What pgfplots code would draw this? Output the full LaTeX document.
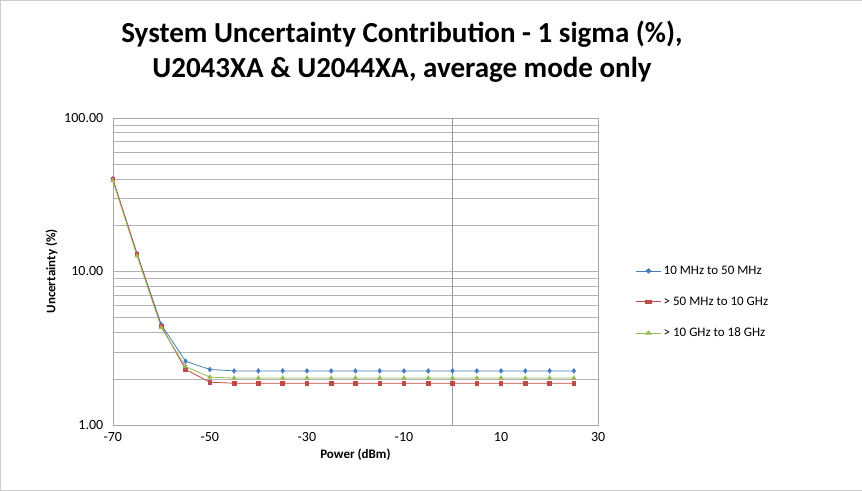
\documentclass[border=0pt]{standalone}
\usepackage{pgfplots}
\pgfplotsset{compat=1.18}
\usepackage{fontspec}
\setmainfont{Carlito}
\definecolor{cb}{HTML}{4A7EBB}
\definecolor{cr}{HTML}{BE4B48}
\definecolor{cg}{HTML}{98B954}
\begin{document}
\begin{tikzpicture}[x=1pt,y=1pt]
\draw[gray!40,fill=white] (0.5,0.5) rectangle (861.5,490.5);
\node[font=\fontsize{29}{35}\selectfont\bfseries,align=center] at (402,439) {System Uncertainty Contribution - 1 sigma (\%),\\U2043XA \& U2044XA, average mode only};
\begin{axis}[at={(113pt,66pt)},anchor=south west,scale only axis,width=485pt,height=307pt,
 ymode=log,ymin=1,ymax=100,xmin=-70,xmax=30,
 xtick={-70,-50,-30,-10,10,30},
 ytick={1,10,100},yticklabels={1.00,10.00,100.00},
 ymajorgrids,yminorgrids,
 major grid style={gray!60},minor grid style={gray!60},
 axis line style={gray!70},tick style={draw=none},
 extra x ticks={0},extra x tick labels={},extra x tick style={grid=major,major grid style={gray!80}},
 tick label style={font=\fontsize{14}{16}\selectfont},
 yticklabel style={xshift=-6pt},xticklabel style={yshift=-4pt},
 /pgf/number format/assume math mode=true,
 xlabel={\textbf{Power (dBm)}},ylabel={\textbf{Uncertainty (\%)}},
 label style={font=\fontsize{13}{15}\selectfont},
 legend style={at={(1.07,0.4)},anchor=west,draw=none,font=\fontsize{13}{15}\selectfont,row sep=17pt},
 legend image post style={xscale=1.5},
 legend cell align=left,
 every axis plot/.append style={thick,mark size=2.2pt}]
\addplot[cb,mark=diamond*] coordinates {(-70,40)(-65,13)(-60,4.5)(-55,2.6)(-50,2.3)(-45,2.25)(-40,2.25)(-35,2.25)(-30,2.25)(-25,2.25)(-20,2.25)(-15,2.25)(-10,2.25)(-5,2.25)(0,2.25)(5,2.25)(10,2.25)(15,2.25)(20,2.25)(25,2.25)};
\addlegendentry{10 MHz to 50 MHz}
\addplot[cr,mark=square*,mark size=1.8pt] coordinates {(-70,40)(-65,13)(-60,4.4)(-55,2.3)(-50,1.9)(-45,1.87)(-40,1.87)(-35,1.87)(-30,1.87)(-25,1.87)(-20,1.87)(-15,1.87)(-10,1.87)(-5,1.87)(0,1.87)(5,1.87)(10,1.87)(15,1.87)(20,1.87)(25,1.87)};
\addlegendentry{> 50 MHz to 10 GHz}
\addplot[cg,mark=triangle*] coordinates {(-70,39)(-65,12.6)(-60,4.3)(-55,2.4)(-50,2.05)(-45,2.02)(-40,2.02)(-35,2.02)(-30,2.02)(-25,2.02)(-20,2.02)(-15,2.02)(-10,2.02)(-5,2.02)(0,2.02)(5,2.02)(10,2.02)(15,2.02)(20,2.02)(25,2.02)};
\addlegendentry{> 10 GHz to 18 GHz}
\end{axis}
\end{tikzpicture}
\end{document}
